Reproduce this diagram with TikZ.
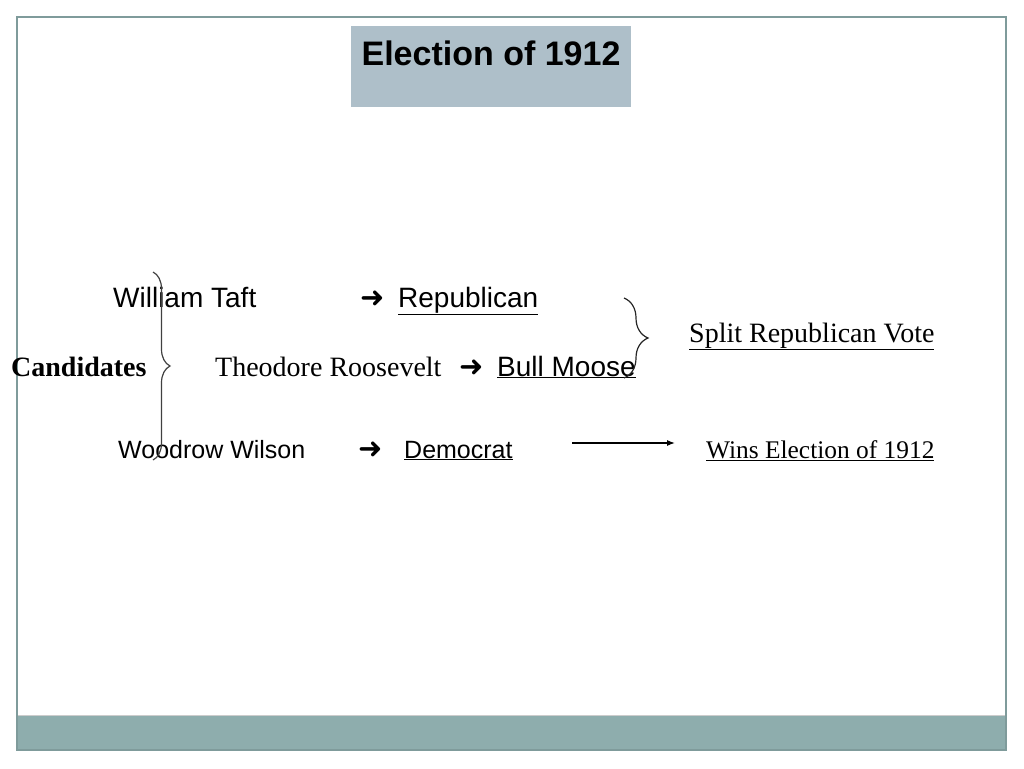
\documentclass[tikz,border=0pt]{standalone}
\usepackage{fontspec}
\setmainfont{Liberation Serif}
\setsansfont{Liberation Sans}
\newfontfamily\arrowfont{DejaVu Sans}
\usetikzlibrary{arrows.meta,decorations.pathreplacing}
\definecolor{framegray}{RGB}{127,155,155}
\definecolor{bandgray}{RGB}{142,173,173}
\definecolor{titlegray}{RGB}{174,191,201}
\newcommand{\bigsize}{\fontsize{28}{34}\selectfont}
\newcommand{\smallsize}{\fontsize{25}{30}\selectfont}
\begin{document}
\begin{tikzpicture}[x=1pt,y=-1pt,
    txt/.style={anchor=base west,inner sep=0pt},
    sanstxt/.style={txt,font=\sffamily\bigsize},
    seriftxt/.style={txt,font=\bigsize},
    arrowtxt/.style={txt,font=\arrowfont\fontsize{29}{33}\selectfont},
    bracket/.style={decorate,draw=black!75,line width=1.2pt},
]
    \useasboundingbox (0,0) rectangle (1024,768);
    \fill[bandgray] (17,716) rectangle (1006,750);
    \draw[black!20,line width=1pt] (17,715.5) -- (1006,715.5);
    \draw[framegray,line width=1.5pt] (17,17) rectangle (1006,750);
    \node[fill=titlegray,anchor=north west,minimum width=280,minimum height=81,inner sep=0pt] (titlebox) at (351,26) {};
    \node[anchor=base,inner sep=0pt,font=\sffamily\bfseries\fontsize{34}{40}\selectfont] (title) at (491,65) {Election of 1912};
    % candidates and parties
    \node[seriftxt,font=\bfseries\bigsize] (candidates) at (11,376) {Candidates};
    \node[sanstxt] (taft) at (113,307) {William Taft};
    \node[arrowtxt] (taftarrow) at (360,307) {➜};
    \node[sanstxt] (republican) at (398,307) {\underline{Republican}};
    \node[seriftxt] (roosevelt) at (215,376) {Theodore Roosevelt};
    \node[arrowtxt] (rooseveltarrow) at (459,376) {➜};
    \node[sanstxt] (moose) at (497,376) {\underline{Bull Moose}};
    \node[sanstxt,font=\sffamily\smallsize] (wilson) at (118,458) {Woodrow Wilson};
    \node[arrowtxt] (wilsonarrow) at (358,458) {➜};
    \node[sanstxt,font=\sffamily\smallsize] (democrat) at (404,458) {\underline{Democrat}};
    \node[seriftxt] (split) at (689,342) {\underline{Split Republican Vote}};
    \node[seriftxt,font=\fontsize{25.4}{30}\selectfont] (wins) at (706,458) {\underline{Wins Election of 1912}};
    \coordinate (winfrom) at (572,443);
    \coordinate (winto) at (675,443);
    \draw[line width=1.2pt,-{Latex[length=8pt,width=6pt]}] (winfrom) -- (winto);
    % braces
    \coordinate (lbtop) at (153,272);
    \coordinate (lbbot) at (153,460);
    \draw[bracket,decoration={brace,amplitude=17pt}] (lbtop) -- (lbbot);
    \coordinate (rbtop) at (624,298);
    \coordinate (rbbot) at (624,378);
    \draw[bracket,draw=black!85,decoration={brace,amplitude=24pt}] (rbtop) -- (rbbot);
\end{tikzpicture}
\end{document}
